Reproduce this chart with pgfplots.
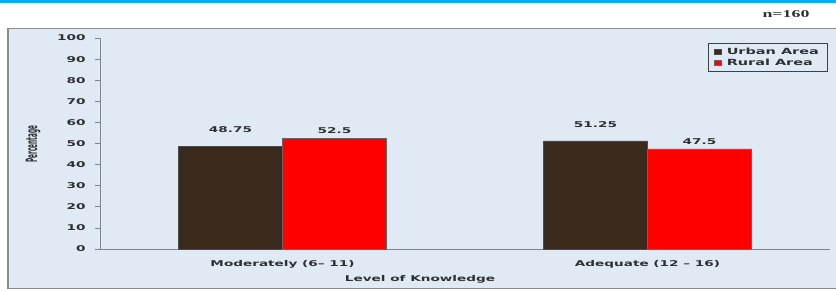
\documentclass[border=0pt]{standalone}
\usepackage{pgfplots}
\pgfplotsset{compat=1.18}
\usepackage{fontspec}
\setmainfont{DejaVu Sans}[FakeStretch=1.7]
\newfontfamily\plainfont{DejaVu Sans}
\newfontfamily\serifwide{Liberation Serif}[FakeStretch=1.7]
\definecolor{bg}{HTML}{DFEAF5}
\definecolor{urban}{HTML}{3A2A1E}
\definecolor{rural}{HTML}{FF0000}
\definecolor{axisgray}{HTML}{80868C}
\definecolor{band}{HTML}{00B0F0}
\definecolor{txt}{HTML}{303030}
\begin{document}
\begin{tikzpicture}
\useasboundingbox (0,0) rectangle (836pt,290pt);
\fill[white] (0,0) rectangle (836pt,290pt);
\fill[band] (0,287pt) rectangle (836pt,290pt);
\filldraw[fill=bg, draw=black!45, line width=1.2pt] (8pt,1.5pt) rectangle (842pt,261.5pt);
\node[font=\serifwide\bfseries\fontsize{10.5}{12}\selectfont, text=txt] at (786pt,276pt) {n=160};
\begin{axis}[
  at={(100pt,41pt)}, anchor=south west, scale only axis,
  width=730pt, height=211pt,
  xmin=-0.5, xmax=1.5, ymin=0, ymax=100,
  ybar=0pt, bar width=104pt,
  axis x line*=bottom, axis y line*=left,
  axis line style={draw=axisgray, line width=0.8pt},
  xtick={0,1},
  xticklabels={Moderately (6– 11), Adequate (12 – 16)},
  x tick style={draw=none},
  ytick={0,10,...,100},
  tick align=outside, major tick length=5pt,
  y tick style={draw=axisgray, line width=0.8pt},
  tick label style={font=\bfseries\fontsize{8}{9}\selectfont, text=txt},
  /pgf/number format/assume math mode=true,
  yticklabel style={xshift=-6pt},
  xticklabel style={yshift=-3pt},
  nodes near coords,
  nodes near coords style={font=\bfseries\fontsize{8}{9}\selectfont, text=txt},
  legend style={at={(0.996,0.976)}, anchor=north east, draw=black!75, fill=bg,
    font=\bfseries\fontsize{8.5}{9}\selectfont, text=txt, inner xsep=6pt, inner ysep=2.5pt,
    row sep=-1pt, legend cell align=left},
  legend image code/.code={\fill[#1] (0pt,-2.5pt) rectangle (7pt,2.5pt);},
]
\addplot[fill=urban, draw=black!70, nodes near coords style={yshift=10pt}] coordinates {(0,48.75) (1,51.25)};
\addlegendentry{\hspace{3pt}Urban Area\hspace{12pt}}
\addplot[fill=rural, draw=black!60, nodes near coords style={yshift=1pt}] coordinates {(0,52.5) (1,47.5)};
\addlegendentry{\hspace{3pt}Rural Area\hspace{12pt}}
\end{axis}
\node[font=\bfseries\fontsize{8}{9}\selectfont, text=txt] at (420pt,11pt) {Level of Knowledge};
\node[rotate=90, text=txt] at (33pt,146pt) {\scalebox{0.95}[2.6]{\plainfont\bfseries\fontsize{6}{7}\selectfont Percentage}};
\end{tikzpicture}
\end{document}
